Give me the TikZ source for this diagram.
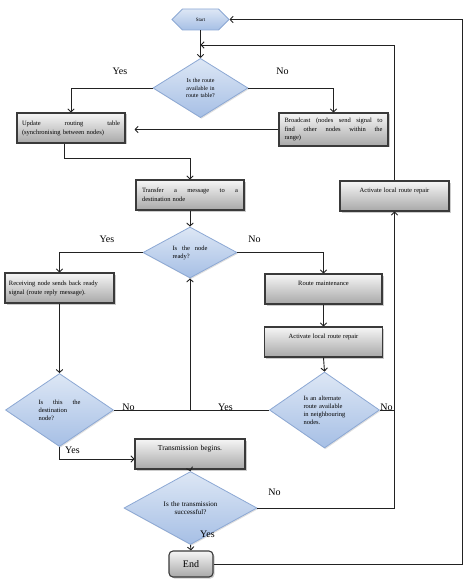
\documentclass[tikz,border=0pt]{standalone}
\usepackage{fontspec}
\setmainfont{Liberation Serif}
\usepackage{xcolor}
\usepackage{tikz}
\usetikzlibrary{
    arrows.meta,
    positioning,
    shapes.geometric,
    shapes.symbols,
    shadows
}
\definecolor{boxedge}{HTML}{3A3A3A}
\definecolor{boxtop}{HTML}{F6F6F6}
\definecolor{boxbottom}{HTML}{A8A8A8}
\definecolor{bluetop}{HTML}{DDE7F5}
\definecolor{bluebottom}{HTML}{A6BFE5}
\definecolor{blueedge}{HTML}{8CA8D4}
\definecolor{wire}{HTML}{222222}
\tikzset{
    block/.style={
        rectangle,
        draw=boxedge,
        line width=1.1pt,
        top color=boxtop,
        bottom color=boxbottom,
        drop shadow={shadow xshift=1.5pt, shadow yshift=-1.5pt, opacity=0.4},
        align=left,
        inner sep=3pt,
        minimum height=30pt,
        font=\fontsize{6.5}{9}\selectfont
    },
    topline/.style={
        align=center,
        text height=6pt,
        text depth=14pt
    },
    decision/.style={
        diamond,
        draw=blueedge,
        line width=0.8pt,
        top color=bluetop,
        bottom color=bluebottom,
        drop shadow={shadow xshift=1pt, shadow yshift=-1.2pt, opacity=0.25},
        align=left,
        inner sep=0pt,
        font=\fontsize{6.5}{8}\selectfont
    },
    terminal/.style={
        rectangle,
        rounded corners=4pt,
        draw=boxedge,
        line width=1.1pt,
        top color=boxtop,
        bottom color=boxbottom,
        drop shadow={shadow xshift=1.5pt, shadow yshift=-1.5pt, opacity=0.4},
        font=\fontsize{10}{12}\selectfont
    },
    hexstart/.style={
        signal,
        signal to=east and west,
        draw=blueedge,
        line width=0.8pt,
        top color=bluetop,
        bottom color=bluebottom,
        inner xsep=12pt,
        inner ysep=7pt,
        font=\fontsize{5}{6}\selectfont
    },
    arrow/.style={
        -{Straight Barb[length=3pt,width=6.5pt]},
        line width=0.9pt,
        draw=wire
    },
    wireline/.style={
        line width=0.9pt,
        draw=wire
    },
    yesno/.style={
        inner sep=0pt,
        font=\fontsize{10}{12}\selectfont
    }
}

\begin{document}
\begin{tikzpicture}[x=1pt, y=-1pt]

\useasboundingbox (0,0) rectangle (474,580);

\node[hexstart, minimum width=57pt, minimum height=21pt] (start) at (200.5,19.5) {Start};
\node[decision, minimum width=95pt, minimum height=56pt, text width=40pt, align=center, font=\fontsize{6}{7.5}\selectfont] (q1) at (200.5,88) {Is the route\\available in\\route table?};
\node[block, minimum width=108pt, text width=98pt] (update) at (71,128) {Update\hfill routing\hfill table\\(synchronising between nodes)};
\node[block, minimum width=109pt, minimum height=33pt, text width=98pt, font=\fontsize{6.5}{8.5}\selectfont] (broadcast) at (333.5,129.5) {Broadcast\hfill (nodes\hfill send\hfill signal\hfill to\\find\hfill other\hfill nodes\hfill within\hfill the\\range)};
\node[block, minimum width=108pt, text width=96pt] (transfer) at (190,195) {Transfer\hfill a\hfill message\hfill to\hfill a\\destination node};
\node[block, topline, minimum width=109pt, text width=98pt] (repair1) at (394.5,196) {Activate local route repair};
\node[decision, minimum width=94pt, minimum height=51pt, text width=35pt] (q2) at (190,252.5) {Is\hfill the\hfill node\\ready?};
\node[block, minimum width=109pt, text width=101pt] (receive) at (59.5,288) {Receiving node sends back ready\\signal (route reply message).};
\node[block, topline, minimum width=117pt, text width=100pt] (maint) at (323.5,289) {Route maintenance};
\node[block, topline, minimum width=118pt, text width=100pt] (repair2) at (323.5,342) {Activate local route repair};
\node[decision, minimum width=108pt, minimum height=73pt, text width=42pt] (q3) at (59.5,410) {Is\hfill this\hfill the\\destination\\node?\\[3pt]};
\node[decision, minimum width=110pt, minimum height=76pt, text width=42pt] (q4) at (324.5,410) {Is an alternate\\route available\\in neighbouring\\nodes.};
\node[block, topline, minimum width=110pt, text width=96pt, font=\fontsize{7.5}{9}\selectfont] (trans) at (190,454) {Transmission begins.};
\node[decision, minimum width=133pt, minimum height=48pt, text width=60pt, align=center, font=\fontsize{7}{8}\selectfont] (q5) at (190.5,508) {Is the transmission\\successful?\\[2pt]};
\node[terminal, minimum width=44pt, minimum height=26pt] (endnode) at (191,564) {End};

\coordinate (join) at (200.5,45);
\coordinate (bend) at (190,158);
\coordinate (meet) at (190,410);
\coordinate (rail) at (462,19.5);

\draw[arrow] (start.south) -- (q1.north);
\draw[arrow] (q1.west) -| (update.north);
\draw[arrow] (q1.east) -| (broadcast.north);
\draw[arrow, shorten >=9pt] (broadcast.west) -- (broadcast.west -| update.east);
\draw[arrow] ([xshift=-7pt]update.south) |- (bend) -- (transfer.north);
\draw[arrow] (transfer.south) -- (q2.north);
\draw[arrow] (q2.west) -| (receive.north);
\draw[arrow] (q2.east) -| (maint.north);
\draw[arrow] (maint.south) -- (repair2.north);
\draw[arrow] (repair2.south) -- (q4.north);
\draw[arrow] (receive.south) -- (q3.north);
\draw[wireline] (q3.east) -- (q4.west);
\draw[arrow] (meet) -- (q2.south);
\draw[wireline] (q4.east) -- (q4.east -| repair1.south);
\draw[arrow] (q5.east) -| (repair1.south);
\draw[arrow] (repair1.north) |- (join);
\draw[arrow] (q3.south) |- ([yshift=-5pt]trans.west);
\draw[arrow] (trans.south) -- (q5.north);
\draw[arrow] (q5.south) -- (endnode.north);
\draw[arrow] (endnode.east) -| (rail) -- (start.east);

\node[yesno] (yes1) at (120,71) {Yes};
\node[yesno] (no1) at (282.5,71) {No};
\node[yesno] (yes2) at (107,239.5) {Yes};
\node[yesno] (no2) at (254.5,239.5) {No};
\node[yesno] (no3) at (128.5,407.5) {No};
\node[yesno] (yes3) at (225.5,407.5) {Yes};
\node[yesno] (no4) at (386.5,407.5) {No};
\node[yesno] (yes4) at (72.5,450) {Yes};
\node[yesno] (no5) at (274.5,492.5) {No};
\node[yesno] (yes5) at (207.5,534.5) {Yes};

\end{tikzpicture}
\end{document}
